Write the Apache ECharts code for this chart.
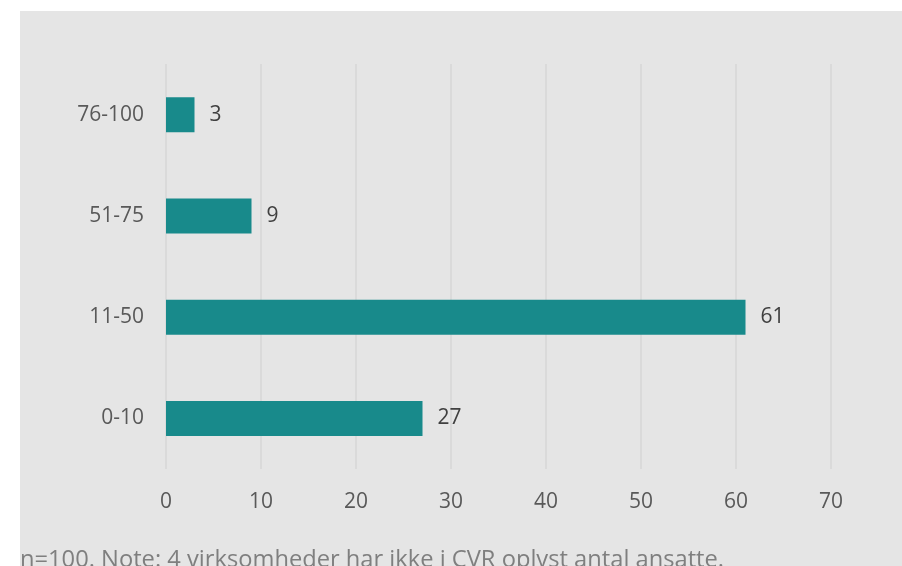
<!DOCTYPE html>
<html><head><meta charset="utf-8">
<script src="https://cdn.jsdelivr.net/npm/echarts@6/dist/echarts.min.js"></script>
<style>html,body{margin:0;padding:0;background:#fff}#c{width:902px;height:566px}</style>
</head><body><div id="c"></div>
<script>
const categories = ['0-10', '11-50', '51-75', '76-100'];
const values = [27, 61, 9, 3];
const xTicks = [0, 10, 20, 30, 40, 50, 60, 70];
const note = 'n=100. Note: 4 virksomheder har ikke i CVR oplyst antal ansatte.';

const chart = echarts.init(document.getElementById('c'));
const font = '"Open Sans", "Noto Sans", sans-serif';
chart.setOption({
  backgroundColor: '#ffffff',
  animation: false,
  graphic: [
    { type: 'rect', z: -10, shape: { x: 20, y: 11, width: 882, height: 560 }, style: { fill: '#e5e5e5' } },
    { type: 'text', left: 20, top: 548, style: { text: note, fill: '#7f7f7f', font: '23.7px ' + font } }
  ],
  grid: { left: 166, right: 71, top: 64, bottom: 97 },
  xAxis: {
    type: 'value', min: 0, max: 70, interval: 10,
    axisLine: { show: false }, axisTick: { show: false },
    splitLine: { lineStyle: { color: '#d6d6d6', width: 1.5 } },
    axisLabel: { color: '#595959', fontSize: 21, fontFamily: font, margin: 23 }
  },
  yAxis: {
    type: 'category', data: categories,
    axisLine: { show: false }, axisTick: { show: false },
    axisLabel: { color: '#595959', fontSize: 21, fontFamily: font, margin: 22 }
  },
  series: [{
    type: 'bar', data: values, barWidth: 35,
    itemStyle: { color: '#188a8b' },
    label: { show: true, position: 'right', distance: 15, color: '#404040', fontSize: 21, fontFamily: font }
  }]
});
</script></body></html>
